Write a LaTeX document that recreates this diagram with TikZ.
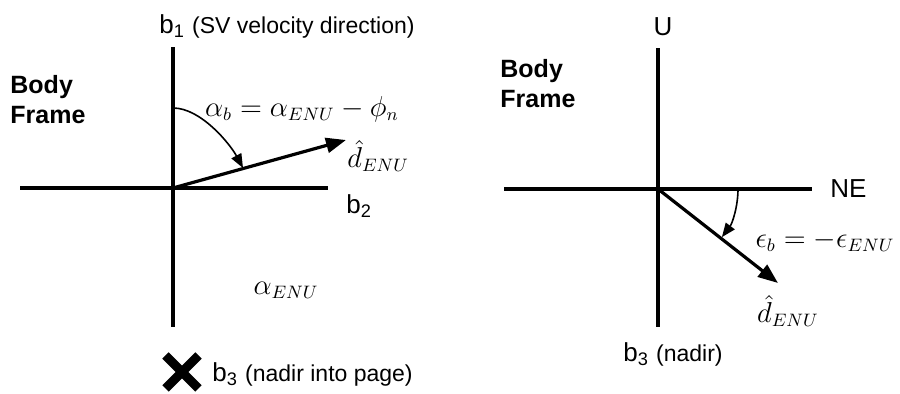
\documentclass[tikz,border=0pt]{standalone}
\usepackage[no-math]{fontspec}
\setmainfont{Liberation Sans}
\usetikzlibrary{arrows.meta,positioning,calc,shapes.misc}
\tikzset{
  axis/.style ={draw=black,line width=1.7pt},
  vec/.style  ={-{Triangle[length=10pt,width=7.5pt]},draw=black,line width=1.6pt},
  ang/.style  ={-{Triangle[length=7pt,width=5.5pt]},draw=black,line width=0.8pt},
  ttl/.style  ={font=\fontsize{12.5}{15}\selectfont\bfseries,align=left,inner sep=0pt},
  axl/.style  ={font=\fontsize{13}{15}\selectfont,inner sep=0pt},
  mth/.style  ={font=\fontsize{13.5}{16}\selectfont,inner sep=0pt},
}
\newcommand{\paren}[1]{{\fontsize{11.5}{13}\selectfont #1}}

\begin{document}
\begin{tikzpicture}[x=0.5pt, y=-0.5pt]
\useasboundingbox (0,0) rectangle (900,394);

% left panel: body frame seen from above
\coordinate (oL)  at (173,188);
\coordinate (b1L) at (173,47);
\coordinate (b1D) at (173,327);
\coordinate (b2W) at (20,188);
\coordinate (b2L) at (328,188);
\coordinate (dL)  at (346,140);
\draw[axis] (b1D) -- (b1L);
\draw[axis] (b2W) -- (b2L);
\draw[vec] (oL) -- (dL);
% azimuth mark, from b1 down onto the vector
\coordinate (azS) at (173,108);
\coordinate (azE) at (243,168);
\draw[ang] (azS) .. controls ($(azS)+(28,0)$) and ($(azE)+(-13,-24)$) .. (azE);

\node[ttl,anchor=west] (bodyL) at (10,100) {Body\\Frame};
\node[axl,anchor=west] (lb1) at (159,26) {b\textsubscript{1} \paren{(SV velocity direction)}};
\node[axl,anchor=west] (lb2) at (346,206) {b\textsubscript{2}};
\node[mth] (alb) at (302,109) {$\alpha_b = \alpha_{ENU} - \phi_n$};
\node[mth,anchor=west] (dhL) at (347,156) {$\hat{d}_{ENU}$};
\node[mth] (aenu) at (286,290) {$\alpha_{ENU}$};
\node[cross out,draw=black,line width=4.5pt,minimum size=12pt,inner sep=0pt] (xb3) at (182,372) {};
\node[axl,anchor=west] (lb3) at (212,374) {b\textsubscript{3} \paren{(nadir into page)}};

% right panel: body frame seen from the side
\coordinate (oR)  at (658,189);
\coordinate (uR)  at (658,48);
\coordinate (b3R) at (658,327);
\coordinate (wR)  at (504,189);
\coordinate (neR) at (812,189);
\coordinate (dR)  at (778,283);
\draw[axis] (b3R) -- (uR);
\draw[axis] (wR) -- (neR);
\draw[vec] (oR) -- (dR);
\draw[ang] ($(oR)+(80,0)$) arc[start angle=0,end angle=37,radius=80];

\node[ttl,anchor=west] (bodyR) at (500,84) {Body\\Frame};
\node[axl] (lU) at (663,27) {U};
\node[axl,anchor=west] (lNE) at (830,189) {NE};
\node[axl,anchor=west] (lb3R) at (623,354) {b\textsubscript{3} \paren{(nadir)}};
\node[mth] (dhR) at (788,311) {$\hat{d}_{ENU}$};
\node[mth] (eps) at (825,241) {$\epsilon_b = -\epsilon_{ENU}$};
\end{tikzpicture}
\end{document}
